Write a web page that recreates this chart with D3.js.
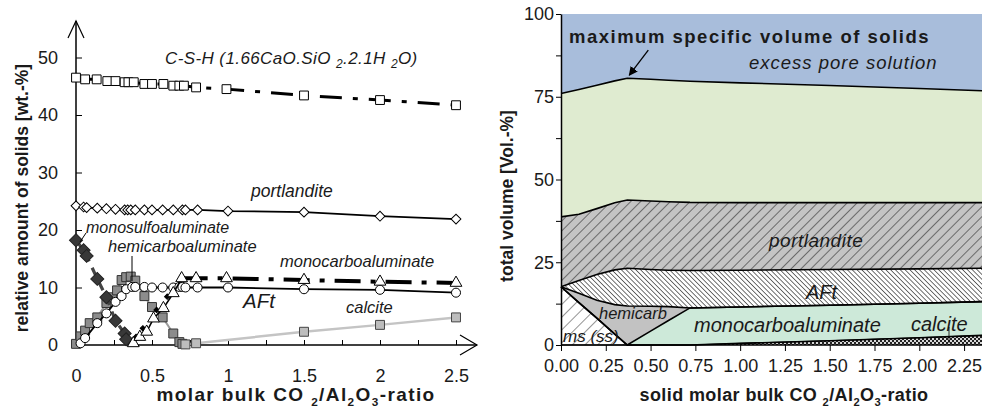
<!DOCTYPE html>
<html>
<head>
<meta charset="utf-8">
<script src="https://cdn.jsdelivr.net/npm/d3@7"></script>
<style>
  body { margin: 0; background: #fff; }
  text { font-family: "Liberation Sans", Arial, sans-serif; fill: #1a1a1a; }
</style>
</head>
<body>
<svg id="chart" width="982" height="410"></svg>
<script>
// ---------- left panel: phase amounts [wt.-%] vs molar bulk CO2/Al2O3 ----------
const csh = [[0,46.5],[0.06,46.2],[0.136,46.2],[0.206,45.9],[0.26,45.9],[0.32,45.7],[0.345,45.7],[0.38,45.7],
  [0.45,45.4],[0.5,45.4],[0.575,45.4],[0.64,45.1],[0.68,45.1],[0.71,45.1],[0.79,44.8],[0.99,44.5],
  [1.5,43.4],[2.0,42.6],[2.5,41.7]]
const portlandite = [[0,24.2],[0.05,24.0],[0.07,23.9],[0.14,23.8],[0.2,23.7],[0.26,23.6],[0.32,23.5],[0.34,23.5],
  [0.36,23.5],[0.39,23.5],[0.45,23.5],[0.5,23.5],[0.57,23.5],[0.64,23.5],[0.7,23.5],[0.72,23.5],[0.8,23.5],
  [1.0,23.3],[1.5,23.1],[2.0,22.4],[2.5,21.9]]
const monosulfo = [[0,18.2],[0.05,16.5],[0.07,15.5],[0.14,11.5],[0.2,8.3],[0.26,4.2],[0.32,2.0],[0.33,1.0]]
const hemicarbo = [[0,0.2],[0.03,1.5],[0.06,2.5],[0.09,3.8],[0.14,4.8],[0.2,7.3],[0.24,8.3],[0.27,9.5],
  [0.3,11.3],[0.33,11.8],[0.36,11.9],[0.39,11.2],[0.45,8.5],[0.5,6.6],[0.57,4.8],[0.64,2.0],[0.68,0.5],[0.7,0.2]]
const aft = [[0.03,0.3],[0.06,1.2],[0.14,3.8],[0.2,5.5],[0.26,7.5],[0.3,8.5],[0.33,9.7],[0.37,10.1],[0.39,10.1],
  [0.45,10.1],[0.5,10.0],[0.57,10.0],[0.64,10.0],[0.68,10.1],[0.7,10.1],[0.72,10.0],[0.8,10.0],[1.0,10.0],
  [1.5,9.7],[2.0,9.6],[2.5,9.1]]
const monocarbo = [[0.377,0.3],[0.42,1.4],[0.465,2.3],[0.51,4.6],[0.575,6.4],[0.64,9.0],[0.695,11.6],
  [0.79,11.6],[0.99,11.6],[1.5,11.3],[2.0,11.0],[2.5,10.8]]
const monocarboSmall = [[0.395,1.4],[0.44,2.9],[0.53,6.1],[0.6,8.4]]
const calcite = [[0.72,0.1],[0.79,0.3],[1.5,2.3],[2.0,3.5],[2.5,4.8]]

const xTicksL = [0, 0.5, 1, 1.5, 2, 2.5]
const yTicksL = [0, 10, 20, 30, 40, 50]

// ---------- right panel: volume fractions [Vol.-%] ----------
const volX        = [0, 0.1, 0.2, 0.3, 0.37, 0.5, 0.6, 0.72, 1.0, 1.5, 2.0, 2.35]
const volCalcite  = [0, 0, 0, 0, 0, 0, 0, 0, 0.5, 1.3, 2.2, 2.9]
const volMs       = [17.6, 12.8, 8.1, 3.3, 0, 0, 0, 0, 0, 0, 0, 0]
const volMonocarb = [0, 0, 0, 0, 0, 4.2, 7.4, 11.2, 11.0, 10.7, 10.4, 10.2]
const volHemicarb = [0, 2.8, 5.4, 8.9, 11.8, 7.5, 4.2, 0, 0, 0, 0, 0]
const volAFt      = [0, 3.9, 7.8, 10.5, 11.4, 11.1, 11.0, 11.3, 11.1, 10.8, 10.4, 10.1]
const volPortl    = [21.1, 20.0, 19.9, 20.3, 20.6, 20.7, 20.7, 20.6, 20.4, 20.2, 20.0, 19.8]
const volCSH      = [37.3, 37.7, 37.3, 36.8, 36.8, 36.8, 36.7, 36.6, 36.2, 35.4, 34.5, 33.8]
const volPore     = [24.0, 22.8, 21.5, 20.2, 19.4, 19.7, 20.0, 20.3, 20.8, 21.6, 22.5, 23.2]

const xTicksR = d3.range(0, 2.26, 0.25)
const yTicksR = d3.range(0, 100.1, 12.5)

const svg = d3.select('#chart')
const defs = svg.append('defs')

function hatch(id, bg, gap, angle, sw) {
  const p = defs.append('pattern')
      .attr('id', id)
      .attr('patternUnits', 'userSpaceOnUse')
      .attr('width', gap).attr('height', gap)
      .attr('patternTransform', `rotate(${angle})`)
  p.append('rect').attr('width', gap).attr('height', gap).attr('fill', bg)
  p.append('line').attr('x1', 0).attr('y1', 0).attr('x2', 0).attr('y2', gap)
      .attr('stroke', '#111').attr('stroke-width', sw)
}
hatch('pMs', '#fff', 9, 45, 0.9)
hatch('pPortl', '#c4c4c4', 7, 45, 1)
hatch('pAFt', '#fff', 3.4, -45, 1.2)

const chk = defs.append('pattern').attr('id', 'pCalc')
    .attr('patternUnits', 'userSpaceOnUse').attr('width', 4).attr('height', 4)
chk.append('rect').attr('width', 4).attr('height', 4).attr('fill', '#d8d8d8')
chk.append('rect').attr('width', 2).attr('height', 2).attr('fill', '#222')
chk.append('rect').attr('x', 2).attr('y', 2).attr('width', 2).attr('height', 2).attr('fill', '#222')

defs.append('marker').attr('id', 'arrowHead')
    .attr('viewBox', '0 0 10 10').attr('refX', 9).attr('refY', 5)
    .attr('markerWidth', 9).attr('markerHeight', 9).attr('orient', 'auto')
    .attr('markerUnits', 'userSpaceOnUse')
  .append('path').attr('d', 'M0,0 L10,5 L0,10 z').attr('fill', '#000')

// ======================= LEFT CHART =======================
const xL = d3.scaleLinear().domain([0, 2.5]).range([76, 456])
const yL = d3.scaleLinear().domain([0, 50]).range([345, 57.5])

const left = svg.append('g')

// axes
let xAxisL = left.append('g').attr('transform', 'translate(0,345)')
xAxisL.call(d3.axisBottom(xL).tickValues(d3.range(0.25, 2.51, 0.25)).tickSize(-5).tickFormat(''))
xAxisL.select('.domain').remove()
let xLabL = left.append('g').attr('transform', 'translate(0,345)')
xLabL.call(d3.axisBottom(xL).tickValues(xTicksL).tickSize(0).tickPadding(24).tickFormat(d3.format('')))
xLabL.select('.domain').remove()

let yAxisL = left.append('g').attr('transform', 'translate(76,0)')
yAxisL.call(d3.axisLeft(yL).tickValues(yTicksL).tickSize(-6).tickPadding(18))
yAxisL.select('.domain').remove()
yAxisL.selectAll('.tick').filter(d => d === 0).select('line').remove()

left.selectAll('.tick text').attr('font-size', 18).attr('font-family', '"Liberation Sans", Arial, sans-serif').attr('fill', '#1a1a1a')
left.selectAll('.tick line').attr('stroke', '#000')

// axis lines with open arrow heads
left.append('line').attr('x1', xL(0)).attr('x2', xL(2.5) + 21).attr('y1', yL(0)).attr('y2', yL(0))
    .attr('stroke', '#000').attr('stroke-width', 1.5)
left.append('path')
    .attr('d', `M${xL(2.5) + 4},${yL(0) - 10} L${xL(2.5) + 21},${yL(0)} L${xL(2.5) + 4},${yL(0) + 10}`)
    .attr('fill', 'none').attr('stroke', '#000').attr('stroke-width', 1.2)
left.append('line').attr('x1', xL(0)).attr('x2', xL(0)).attr('y1', yL(0)).attr('y2', 21)
    .attr('stroke', '#000').attr('stroke-width', 1.5)
left.append('path')
    .attr('d', `M${xL(0) - 8},38 L${xL(0)},21 L${xL(0) + 8},38`)
    .attr('fill', 'none').attr('stroke', '#000').attr('stroke-width', 1.2)

const lineL = d3.line().x(d => xL(d[0])).y(d => yL(d[1]))

function drawLine(data, stroke, width, dash) {
  left.append('path').datum(data)
      .attr('d', lineL)
      .attr('fill', 'none')
      .attr('stroke', stroke)
      .attr('stroke-width', width)
      .attr('stroke-dasharray', dash || null)
}
function drawPoints(data, type, size, fill, stroke, rotate) {
  left.append('g').selectAll('path')
      .data(data)
      .join('path')
      .attr('d', d3.symbol().type(type).size(size))
      .attr('transform', d => `translate(${xL(d[0])},${yL(d[1])}) rotate(${rotate || 0})`)
      .attr('fill', fill)
      .attr('stroke', stroke)
      .attr('stroke-width', 1)
}

// C-S-H
drawLine(csh, '#000', 3, '22,11,5,11')
drawPoints(csh, d3.symbolSquare, 78, '#fff', '#000')
// portlandite
drawLine(portlandite, '#000', 1.8)
drawPoints(portlandite, d3.symbolSquare, 48, '#fff', '#000', 45)
// calcite
drawLine(calcite, '#c4c4c4', 2.5)
// hemicarboaluminate
drawLine(hemicarbo, '#9a9a9a', 2)
drawPoints(hemicarbo, d3.symbolSquare, 80, '#8c8c8c', '#333')
// monosulfoaluminate
drawLine(monosulfo, '#444', 3.2, '9,7')
drawPoints(monosulfo, d3.symbolSquare, 85, '#383838', '#222', 45)
// AFt
drawLine(aft, '#000', 1.8)
drawPoints(aft, d3.symbolCircle, 64, '#fff', '#000')
// monocarboaluminate
drawLine(monocarbo.filter(d => d[0] <= 0.7), '#000', 1.5)
drawLine(monocarbo.filter(d => d[0] >= 0.69), '#000', 4, '26,10,5,10')
drawPoints(monocarboSmall, d3.symbolSquare, 14, '#000', '#000', 45)
drawPoints(monocarbo, d3.symbolTriangle, 60, '#fff', '#000')
drawPoints(calcite, d3.symbolSquare, 80, '#bdbdbd', '#444')

// leader lines
left.append('line').attr('x1', 86).attr('y1', 233).attr('x2', 80).attr('y2', 242).attr('stroke', '#000')
left.append('line').attr('x1', 132).attr('y1', 256).attr('x2', 132).attr('y2', 281).attr('stroke', '#000')

// series labels
function labelL(x, y, txt, size, ls) {
  return left.append('text').attr('x', x).attr('y', y)
      .attr('font-size', size).attr('font-style', 'italic')
      .attr('letter-spacing', ls || 0).text(txt)
}
const cshLab = left.append('text').attr('x', 165).attr('y', 63.5)
    .attr('font-size', 17).attr('font-style', 'italic').attr('letter-spacing', 0.4)
cshLab.append('tspan').text('C-S-H (1.66CaO.SiO ')
cshLab.append('tspan').attr('font-size', 12).attr('dy', 4).text('2')
cshLab.append('tspan').attr('dy', -4).text('.2.1H ')
cshLab.append('tspan').attr('font-size', 12).attr('dy', 4).text('2')
cshLab.append('tspan').attr('dy', -4).text('O)')

labelL(251, 197, 'portlandite', 17.5)
labelL(86, 233, 'monosulfoaluminate', 16)
labelL(108, 251.5, 'hemicarboaluminate', 16.5)
labelL(280, 267, 'monocarboaluminate', 16.5)
labelL(243, 307.5, 'AFt', 20.5)
labelL(346, 313, 'calcite', 16.5)

// axis titles
function subTitle(g, x, y, parts, size, ls) {
  const t = g.append('text')
      .attr('x', x).attr('y', y)
      .attr('text-anchor', 'middle')
      .attr('font-size', size).attr('font-weight', 'bold')
      .attr('letter-spacing', ls || 0)
  parts.forEach(p => {
    if (p[1]) t.append('tspan').attr('font-size', size * 0.62).attr('dy', 5).text(p[0])
    else t.append('tspan').attr('dy', p[2] ? -5 : 0).text(p[0])
  })
  return t
}
subTitle(left, 296, 401, [['molar bulk CO '], ['2', true], ['/Al', false, true], ['2', true], ['O', false, true], ['3', true], ['-ratio', false, true]], 19, 1.4)
left.append('text')
    .attr('transform', 'translate(28,198) rotate(-90)')
    .attr('text-anchor', 'middle')
    .attr('font-size', 17.5).attr('font-weight', 'bold')
    .text('relative amount of solids [wt.-%]')

// ======================= RIGHT CHART =======================
const xR = d3.scaleLinear().domain([0, 2.35]).range([561, 982])
const yR = d3.scaleLinear().domain([0, 100]).range([345, 14])

const right = svg.append('g')

const layers = ['calcite', 'ms', 'monocarb', 'hemicarb', 'aft', 'portl', 'csh', 'pore']
const layerFill = {
  calcite: 'url(#pCalc)', ms: 'url(#pMs)', monocarb: '#cde9d9', hemicarb: '#c2c2c2',
  aft: 'url(#pAFt)', portl: 'url(#pPortl)', csh: '#dfebd0', pore: '#a8bddb'
}
const volRows = volX.map((x, i) => ({
  x: x, calcite: volCalcite[i], ms: volMs[i], monocarb: volMonocarb[i], hemicarb: volHemicarb[i],
  aft: volAFt[i], portl: volPortl[i], csh: volCSH[i], pore: volPore[i]
}))

const series = d3.stack().keys(layers)(volRows)

const areaR = d3.area()
    .x(d => xR(d.data.x))
    .y0(d => yR(d[0]))
    .y1(d => yR(d[1]))

right.append('g').selectAll('path')
    .data(series)
    .join('path')
    .attr('fill', d => layerFill[d.key])
    .attr('d', areaR)

const topLine = d3.line().x(d => xR(d.data.x)).y(d => yR(d[1]))
right.append('g').selectAll('path')
    .data(series.filter(s => s.key !== 'pore'))
    .join('path')
    .attr('fill', 'none')
    .attr('stroke', '#000')
    .attr('stroke-width', d => d.key === 'calcite' ? 1 : 1.6)
    .attr('d', topLine)

// axes
let xAxisR = right.append('g').attr('transform', `translate(0,${yR(0)})`)
xAxisR.call(d3.axisBottom(xR).tickValues(xTicksR).tickSize(6).tickSizeOuter(0).tickPadding(8).tickFormat(d3.format('.2f')))
xAxisR.select('.domain').attr('stroke-width', 1.5).attr('d', `M${xR(0)},0H982`)

let yAxisR = right.append('g').attr('transform', `translate(${xR(0)},0)`)
yAxisR.call(d3.axisLeft(yR).tickValues(yTicksR).tickSize(5).tickSizeOuter(0).tickPadding(2)
    .tickFormat(d => d % 25 === 0 ? d : ''))
yAxisR.select('.domain').attr('stroke-width', 1.5)

right.selectAll('.tick text').attr('font-size', 18).attr('font-family', '"Liberation Sans", Arial, sans-serif').attr('fill', '#1a1a1a')
right.selectAll('.tick line').attr('stroke', '#000')

// annotations
const peakI = 4
const peakTop = d3.sum(['calcite', 'ms', 'monocarb', 'hemicarb', 'aft', 'portl', 'csh'].map(k => volRows[peakI][k]))
const tip = [xR(volX[peakI]) + 2, yR(peakTop) - 3]
right.append('line')
    .attr('x1', tip[0] + 19).attr('y1', tip[1] - 25)
    .attr('x2', tip[0]).attr('y2', tip[1])
    .attr('stroke', '#000').attr('stroke-width', 1.3)
    .attr('marker-end', 'url(#arrowHead)')

right.append('text').attr('x', 569).attr('y', 43)
    .attr('font-size', 18.5).attr('font-weight', 'bold').attr('letter-spacing', 1.5)
    .text('maximum specific volume of solids')

function labelR(x, y, txt, size, ls) {
  return right.append('text').attr('x', x).attr('y', y)
      .attr('font-size', size).attr('font-style', 'italic')
      .attr('letter-spacing', ls || 0).text(txt)
}
labelR(749, 69, 'excess pore solution', 18.5, 1)
labelR(769, 247, 'portlandite', 19, 0.5)
labelR(806, 299, 'AFt', 20)
labelR(599, 319, 'hemicarb', 16.5)
labelR(694, 332, 'monocarboaluminate', 20)
labelR(911, 331, 'calcite', 20)
labelR(563, 342, 'ms (ss)', 17)

right.append('line').attr('x1', 949).attr('x2', 949).attr('y1', 327).attr('y2', 343)
    .attr('stroke', '#000').attr('stroke-width', 0.8)

subTitle(right, 784, 401, [['solid molar bulk CO '], ['2', true], ['/Al', false, true], ['2', true], ['O', false, true], ['3', true], ['-ratio', false, true]], 18, 0.4)
right.append('text')
    .attr('transform', 'translate(513,196) rotate(-90)')
    .attr('text-anchor', 'middle')
    .attr('font-size', 17.5).attr('font-weight', 'bold')
    .text('total volume [Vol.-%]')
</script>
</body>
</html>
